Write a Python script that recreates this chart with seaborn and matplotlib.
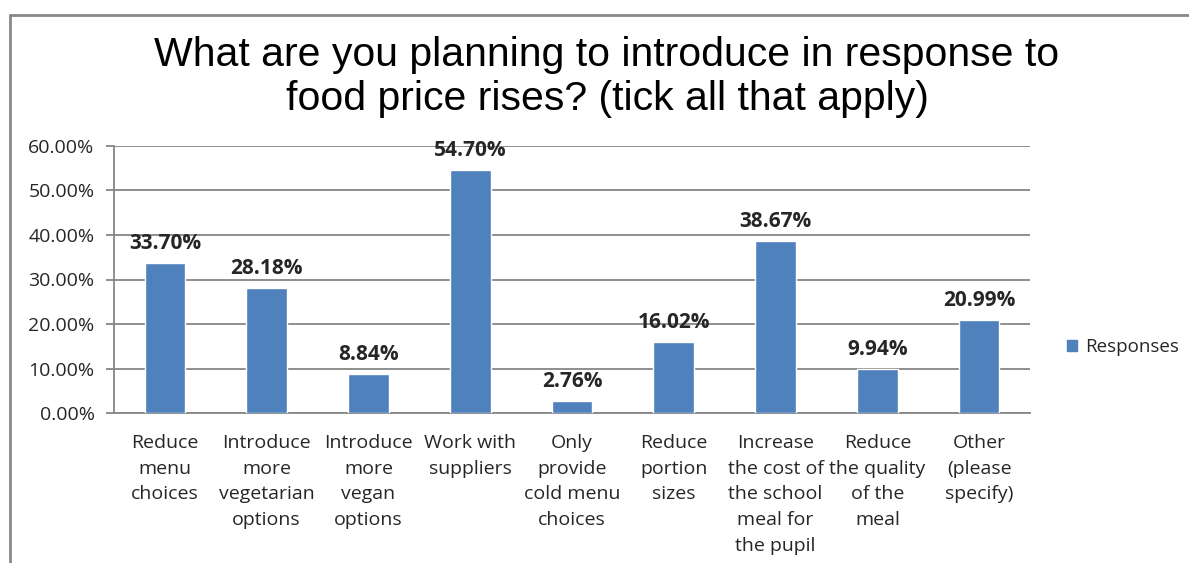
import matplotlib
matplotlib.use("Agg")
import matplotlib.pyplot as plt
import seaborn as sns
import pandas as pd
from matplotlib.lines import Line2D
from matplotlib.patches import Patch
from matplotlib.ticker import FuncFormatter, MultipleLocator

categories = [
    "Reduce\nmenu\nchoices",
    "Introduce\nmore\nvegetarian\noptions",
    "Introduce\nmore\nvegan\noptions",
    "Work with\nsuppliers",
    "Only\nprovide\ncold menu\nchoices",
    "Reduce\nportion\nsizes",
    "Increase\nthe cost of\nthe school\nmeal for\nthe pupil",
    "Reduce\nthe quality\nof the\nmeal",
    "Other\n(please\nspecify)",
]
values = [33.70, 28.18, 8.84, 54.70, 2.76, 16.02, 38.67, 9.94, 20.99]
series_name = "Responses"
title = "What are you planning to introduce in response to\nfood price rises? (tick all that apply)"

sns.set_style("white")
plt.rcParams["font.family"] = ["Open Sans", "DejaVu Sans"]

bar_color = "#4F81BD"
grid_color = "#868686"
text_color = "#262626"

df = pd.DataFrame({"cat": categories, "val": values})

fig = plt.figure(figsize=(11.89, 5.63), dpi=100)
ax = fig.add_axes([114 / 1189, 1 - 413 / 563, (1030 - 114) / 1189, (413 - 146) / 563])

sns.barplot(data=df, x="cat", y="val", color=bar_color, width=0.4, saturation=1, ax=ax, zorder=3)

ax.set_ylim(0, 60)
ax.set_xlim(-0.5, len(categories) - 0.5)
ax.yaxis.set_major_locator(MultipleLocator(10))
ax.yaxis.set_major_formatter(FuncFormatter(lambda v, p: f"{v:.2f}%"))
ax.set_xlabel("")
ax.set_ylabel("")

ax.grid(axis="y", color=grid_color, linewidth=1.3, zorder=0)
ax.grid(axis="x", visible=False)
for s in ["top", "right"]:
    ax.spines[s].set_visible(False)
for s in ["left", "bottom"]:
    ax.spines[s].set_color(grid_color)
    ax.spines[s].set_linewidth(1.3)

ax.set_xticks(range(len(categories)))
ax.set_xticklabels(categories, fontsize=14, color=text_color, linespacing=1.55, va="top")
ax.tick_params(axis="x", which="major", length=0, pad=15)
ax.set_xticks([i - 0.5 for i in range(len(categories) + 1)], minor=True)
ax.tick_params(axis="x", which="minor", length=6, color=grid_color, width=1.3, direction="out")
ax.tick_params(axis="y", length=6, color=grid_color, width=1.3, direction="out",
               labelsize=14, labelcolor=text_color, pad=8, left=True)

for i, v in enumerate(values):
    ax.text(i, v + 2.0, f"{v:.2f}%", ha="center", va="bottom", fontsize=15,
            fontweight="bold", color=text_color)

fig.text(607 / 1189, 1 - 77 / 563, title, ha="center", va="center", fontsize=29.5,
         family=["Liberation Sans", "DejaVu Sans"], linespacing=1.22, color="black")

leg = fig.legend(handles=[Patch(facecolor=bar_color, edgecolor=bar_color, label=series_name)],
                 loc="center left", bbox_to_anchor=(1050 / 1189, 1 - 347 / 563),
                 frameon=False, fontsize=13.5, handlelength=0.55, handleheight=0.55,
                 handletextpad=0.4)
for t in leg.get_texts():
    t.set_color(text_color)

fig.add_artist(Line2D([10 / 1189, 10 / 1189], [0, 1 - 15 / 563], transform=fig.transFigure,
                      color="#888888", linewidth=2))
fig.add_artist(Line2D([10 / 1189, 1], [1 - 15 / 563, 1 - 15 / 563], transform=fig.transFigure,
                      color="#888888", linewidth=2))

fig.savefig("out.png", dpi=100, facecolor="white")
